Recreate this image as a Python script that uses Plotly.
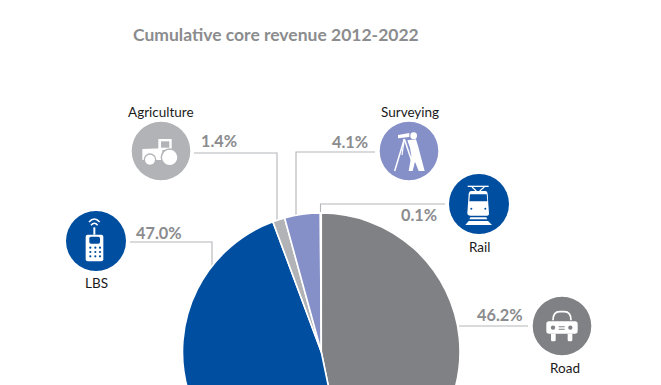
import re
import plotly.graph_objects as go

W, H = 661, 504  # figure runs past the 385 px window so the pie is cut off at the bottom

categories = ["Road", "LBS", "Agriculture", "Surveying", "Rail"]
shares = [46.2, 47.0, 1.4, 4.1, 0.1]
share_labels = ["46.2%", "47.0%", "1.4%", "4.1%", "0.1%"]
slice_colors = ["#808184", "#004EA0", "#B1B3B6", "#8590C8", "#004EA0"]
title_text = "Cumulative core revenue 2012-2022"

GREY_TXT = "#8B8C8E"
LINE = "#B4B5B8"
FONT = "Lato"

fig = go.Figure()
fig.add_trace(go.Pie(
    labels=categories, values=shares, sort=False, direction="clockwise", rotation=0,
    marker=dict(colors=slice_colors, line=dict(color="white", width=1.6)),
    textinfo="none", hoverinfo="label+percent", showlegend=False,
    domain=dict(x=[182.5 / W, 460 / W], y=[1 - 490.5 / H, 1 - 213 / H]),
))

leaders = {
    "Road": ([459, 528], [326, 326]),
    "LBS": ([130, 212, 212], [242, 242, 267]),
    "Agriculture": ([194, 277, 277], [153, 153, 221]),
    "Surveying": ([375, 296, 296], [152, 152, 216]),
    "Rail": ([445, 320.5, 320.5], [204, 204, 214]),
}
for name, (xs, ys) in leaders.items():
    fig.add_trace(go.Scatter(x=xs, y=ys, mode="lines", line=dict(color=LINE, width=1.1),
                             hoverinfo="skip", showlegend=False))

shapes = []


def add_circle(cx, cy, r, color):
    shapes.append(dict(type="circle", x0=cx - r, x1=cx + r, y0=cy - r, y1=cy + r,
                       fillcolor=color, line=dict(width=0), xref="x", yref="y"))


def add_path(ox, oy, d, fill="white", stroke=None, w=0):
    """d is written in 3x crop coordinates relative to (ox, oy)."""
    idx = [0]

    def rep(m):
        v = float(m.group(0)) / 3 + (ox if idx[0] % 2 == 0 else oy)
        idx[0] += 1
        return f"{v:.2f}"
    path = re.sub(r"-?\d+(\.\d+)?", rep, d)
    shapes.append(dict(type="path", path=path, xref="x", yref="y",
                       fillcolor=fill if fill else "rgba(0,0,0,0)",
                       line=dict(color=stroke or "rgba(0,0,0,0)", width=w)))


def crop_circle(ox, oy, cx, cy, r, color):
    add_circle(ox + cx / 3, oy + cy / 3, r / 3, color)


# Agriculture icon
c = "#B1B3B6"
add_circle(161, 151, 29.3, c)
o = (125, 115)
add_path(*o, "M 100 72 L 140 72 L 140 105 L 100 105 Z")
add_path(*o, "M 108 79 L 133 79 L 133 98 L 108 98 Z", fill=c)
add_path(*o, "M 52 102 L 112 100 L 112 135 L 52 135 Z")
crop_circle(*o, 75, 134, 19, c)
crop_circle(*o, 75, 134, 15, "white")
crop_circle(*o, 134, 127, 27, c)
crop_circle(*o, 134, 127, 23, "white")

# Surveying icon
c = "#8590C8"
add_circle(409, 151, 29.3, c)
o = (372, 115)
add_path(*o, "M 78 60 L 112 54 L 112 66 L 78 70 Z")
crop_circle(*o, 125, 62, 10, "white")
add_path(*o, "M 106 76 L 132 73 L 139 96 L 158 168 L 140 168 L 129 140 L 122 168 L 110 168 L 118 122 L 114 98 Z")
add_path(*o, "M 97 72 L 68 168", fill=None, stroke="white", w=1.5)
add_path(*o, "M 97 72 L 90 120", fill=None, stroke="white", w=1.2)
add_path(*o, "M 97 72 L 120 140", fill=None, stroke="white", w=1.5)

# Rail icon
c = "#004EA0"
add_circle(479, 204, 30, c)
o = (442, 167)
add_path(*o, "M 77 58 L 140 58", fill=None, stroke="white", w=1.3)
add_path(*o, "M 90 60 L 103 72 M 127 60 L 113 72", fill=None, stroke="white", w=1.2)
add_path(*o, "M 88 72 L 130 72 Q 136 72 137 82 L 141 140 Q 141 146 132 146 L 86 146 Q 76 146 76 138 L 80 82 Q 81 72 88 72 Z")
add_path(*o, "M 84 82 L 134 82 L 136 103 L 82 103 Z", fill=c)
crop_circle(*o, 88, 125, 3, c)
crop_circle(*o, 130, 125, 3, c)
add_path(*o, "M 85 151 L 133 151 L 136 157 L 82 157 Z")
add_path(*o, "M 80 162 L 138 162 L 150 174 L 70 174 Z")

# LBS icon
add_circle(96, 241, 30, c)
o = (59, 204)
add_path(*o, "M 80 98 Q 80 92 86 92 L 127 92 Q 133 92 133 98 L 133 166 Q 133 172 127 172 L 86 172 Q 80 172 80 166 Z")
add_path(*o, "M 103 70 L 109 70 L 109 92 L 103 92 Z")
add_path(*o, "M 91 103 Q 91 98 96 98 L 118 98 Q 123 98 123 103 L 123 114 Q 123 119 118 119 L 96 119 Q 91 119 91 114 Z", fill=c)
for y in (131, 144, 157):
    for x in (94, 109, 123):
        crop_circle(*o, x, y, 3.3, c)
add_path(*o, "M 90 54 Q 106 36 122 54", fill=None, stroke="white", w=1.5)
add_path(*o, "M 96 64 Q 106 52 116 64", fill=None, stroke="white", w=1.5)

# Road icon
c = "#808184"
add_circle(562, 326, 29.3, c)
o = (525, 289)
add_path(*o, "M 84 94 Q 84 68 104 68 L 118 68 Q 138 68 138 94", fill=None, stroke="white", w=1.7)
add_path(*o, "M 72 97 L 150 97 Q 158 97 158 105 L 158 126 Q 158 134 150 134 L 72 134 Q 64 134 64 126 L 64 105 Q 64 97 72 97 Z")
add_path(*o, "M 78 134 L 92 134 L 92 153 Q 92 157 88 157 L 82 157 Q 78 157 78 153 Z")
add_path(*o, "M 128 134 L 142 134 L 142 153 Q 142 157 138 157 L 132 157 Q 128 157 128 153 Z")
crop_circle(*o, 84, 116, 6.5, c)
crop_circle(*o, 136, 116, 6.5, c)
add_path(*o, "M 101 112 L 119 112 L 119 115 L 101 115 Z M 101 119 L 119 119 L 119 122 L 101 122 Z", fill=c)

annotations = []


def txt(x, y, s, size, color, bold=False, font=FONT):
    annotations.append(dict(x=x, y=y, xref="x", yref="y", text=f"<b>{s}</b>" if bold else s,
                            showarrow=False, xanchor="center", yanchor="middle",
                            font=dict(family=font, size=size, color=color)))


txt(275.5, 34, title_text, 17.5, GREY_TXT, bold=True)
pct_pos = {"Road": (500, 314), "LBS": (159, 232), "Agriculture": (219, 140),
           "Surveying": (349.5, 141), "Rail": (419, 214)}
for name, lab in zip(categories, share_labels):
    px, py = pct_pos[name]
    txt(px, py, lab, 16.3, GREY_TXT, bold=True)
name_pos = {"Road": (564.5, 368), "LBS": (96.5, 283), "Agriculture": (160.5, 111.5),
            "Surveying": (410, 111.5), "Rail": (480, 247)}
for name in categories:
    px, py = name_pos[name]
    txt(px, py, name, 13.5, "#1A1A1A")

fig.update_layout(
    width=W, height=H, margin=dict(l=0, r=0, t=0, b=0, autoexpand=False),
    paper_bgcolor="white", plot_bgcolor="rgba(0,0,0,0)",
    xaxis=dict(range=[0, W], visible=False, fixedrange=True),
    yaxis=dict(range=[H, 0], visible=False, fixedrange=True),
    shapes=shapes, annotations=annotations, showlegend=False,
)
fig.write_html("out.html", config=dict(displayModeBar=False),
               post_script="document.documentElement.style.overflow='hidden';document.body.style.overflow='hidden';document.body.style.margin='0';")
